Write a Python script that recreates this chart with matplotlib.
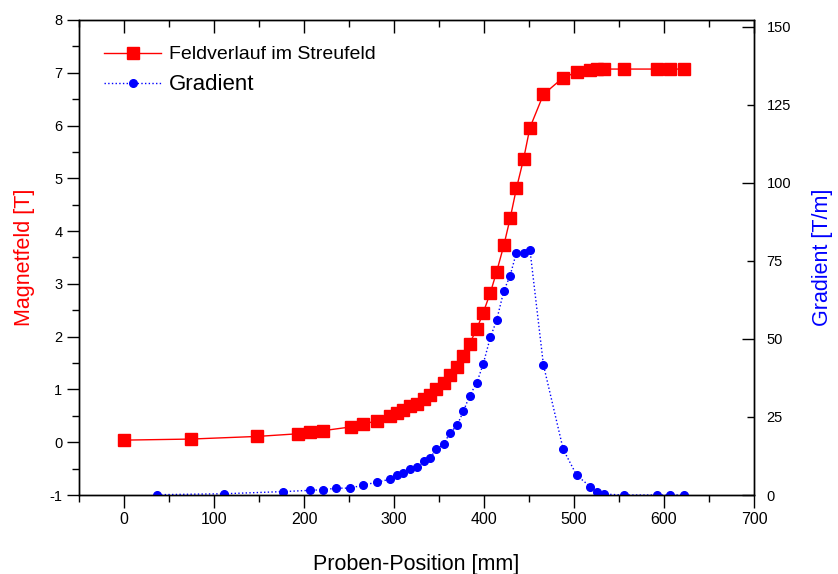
import matplotlib.pyplot as plt
from matplotlib.ticker import MultipleLocator

# Feldverlauf im Streufeld (left axis, Tesla)
pos_field = [0, 74, 148, 193, 207, 221.5, 252, 266, 281, 296, 303, 310, 318, 325, 333,
             340, 347, 355, 362, 370, 377, 384, 392, 399, 407, 414, 422, 429, 436, 444,
             451, 466, 488, 503, 518, 525, 533, 555, 592, 607, 622]
field = [0.04, 0.06, 0.11, 0.16, 0.19, 0.22, 0.29, 0.34, 0.41, 0.50, 0.55, 0.61, 0.68, 0.73, 0.81,
         0.90, 1.01, 1.12, 1.28, 1.43, 1.64, 1.87, 2.15, 2.45, 2.83, 3.23, 3.73, 4.24, 4.81, 5.37,
         5.96, 6.59, 6.91, 7.01, 7.05, 7.07, 7.07, 7.07, 7.07, 7.07, 7.07]

# Gradient (right axis, T/m)
pos_grad = [37, 111, 177, 207, 221.5, 236, 251, 266, 281, 296, 303, 310, 318, 325, 333,
            340, 347, 355, 362, 370, 377, 384, 392, 399, 407, 414, 422, 429, 436, 444,
            451, 466, 488, 503, 518, 525, 533, 555, 592, 607, 622]
grad = [0.1, 0.4, 1.1, 1.5, 1.7, 2.2, 2.2, 3.2, 4.1, 5.1, 6.3, 7.1, 8.3, 9.1, 10.8,
        11.9, 14.6, 16.3, 19.8, 22.3, 26.8, 31.8, 36.0, 41.9, 50.5, 56.0, 65.4, 70.3, 77.7, 77.7,
        78.6, 41.7, 14.6, 6.3, 2.7, 1.1, 0.3, 0.0, 0.0, 0.0, 0.0]

plt.rcParams['font.family'] = ['Liberation Sans', 'DejaVu Sans']
plt.rcParams['axes.unicode_minus'] = False

fig = plt.figure(figsize=(8.38, 5.74), dpi=100)
ax = fig.add_axes([0.0943, 0.1376, 0.8055, 0.8276])
ax2 = ax.twinx()

l1, = ax.plot(pos_field, field, color='red', linewidth=1.0, marker='s', markersize=8.5,
              markeredgecolor='red', label='Feldverlauf im Streufeld')
l2, = ax2.plot(pos_grad, grad, color='blue', linewidth=1.0, linestyle=':', marker='o',
               markersize=5.5, markeredgecolor='blue', label='Gradient')

ax.set_xlim(-50, 700)
ax.set_ylim(-1, 8)
ax2.set_ylim(0, 152.2)

ax.xaxis.set_major_locator(MultipleLocator(100))
ax.xaxis.set_minor_locator(MultipleLocator(50))
ax.yaxis.set_major_locator(MultipleLocator(1))
ax.yaxis.set_minor_locator(MultipleLocator(0.5))
ax.set_xticks(range(0, 701, 100))

ax.tick_params(axis='x', which='both', direction='out', top=True, labelsize=11.5, pad=3)
ax.tick_params(axis='y', which='both', direction='out', labelsize=10.5, pad=3)
ax.tick_params(which='major', length=9, width=1)
ax.tick_params(which='minor', length=5, width=1)
# top ticks point inward
for t in ax.xaxis.get_major_ticks() + ax.xaxis.get_minor_ticks():
    t.tick2line.set_marker(3)

ax2.set_yticks([0, 50, 100, 150])
ax2.set_yticks([25, 75, 125], labels=['25', '75', '125'], minor=True)
ax2.tick_params(axis='y', which='both', direction='in', labelsize=10.5, pad=9)
ax2.tick_params(which='major', length=9, width=1)
ax2.tick_params(which='minor', length=5, width=1)

for a in (ax, ax2):
    for s in a.spines.values():
        s.set_linewidth(1.0)

ax.set_xlabel('Proben-Position [mm]', fontsize=15.5, labelpad=20)
ax.set_ylabel('Magnetfeld [T]', fontsize=15.5, color='red', labelpad=10)
ax2.set_ylabel('Gradient [T/m]', fontsize=15.5, color='blue', labelpad=15)

leg = ax2.legend(handles=[l1, l2], loc='upper left', bbox_to_anchor=(0.026, 0.962),
                 frameon=False, fontsize=14, handlelength=2.9, handletextpad=0.4,
                 labelspacing=0.55, borderaxespad=0)
leg.get_texts()[1].set_fontsize(16)

fig.savefig('out.png', dpi=100)
